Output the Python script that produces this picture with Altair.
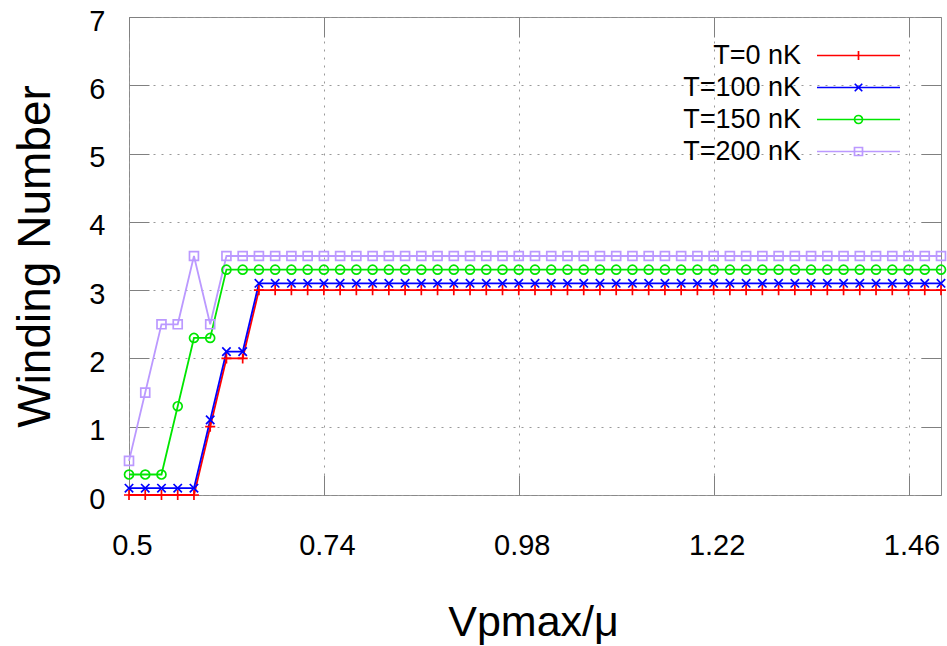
import altair as alt
import pandas as pd

# Abscissa: Vpmax/mu sampled every 0.02 from 0.5 to 1.5
vp = [round(0.5 + 0.02 * i, 2) for i in range(51)]

series = ["T=0 nK", "T=100 nK", "T=150 nK", "T=200 nK"]
colors = ["#ff0000", "#0000ff", "#00e600", "#bb99ff"]

# Winding number for each temperature (plateau reached after the first steps)
w_t0 = [0.0, 0.0, 0.0, 0.0, 0.0, 1.0, 2.0, 2.0, 3.0] + [3.0] * 42
w_t100 = [0.1, 0.1, 0.1, 0.1, 0.1, 1.1, 2.1, 2.1, 3.1] + [3.1] * 42
w_t150 = [0.3, 0.3, 0.3, 1.3, 2.3, 2.3, 3.3, 3.3, 3.3] + [3.3] * 42
w_t200 = [0.5, 1.5, 2.5, 2.5, 3.5, 2.5, 3.5, 3.5, 3.5] + [3.5] * 42

x_ticks = [0.5, 0.74, 0.98, 1.22, 1.46]
y_ticks = [0, 1, 2, 3, 4, 5, 6, 7]
symbols = ["plus", "cross", "circle", "square"]


def symbol_path(kind, cx=0.0):
    """SVG path of a point symbol centred at (cx, 0), in symbol units."""
    if kind == "plus":
        return f"M{cx - 0.9},0L{cx + 0.9},0M{cx},-0.9L{cx},0.9"
    if kind == "cross":
        return (f"M{cx - 0.75},-0.75L{cx + 0.75},0.75"
                f"M{cx - 0.75},0.75L{cx + 0.75},-0.75")
    if kind == "circle":
        return (f"M{cx - 0.8},0A0.8,0.8 0 1,0 {cx + 0.8},0"
                f"A0.8,0.8 0 1,0 {cx - 0.8},0")
    return (f"M{cx - 0.8},-0.8L{cx + 0.8},-0.8"
            f"L{cx + 0.8},0.8L{cx - 0.8},0.8Z")


marker_paths = [symbol_path(k) for k in symbols]
# Legend keys: a line segment with the symbol in its middle, set to the
# right of the (right-aligned) label
KEY_CX = 14.2
legend_paths = [f"M{KEY_CX - 8.3},0L{KEY_CX + 8.3},0" + symbol_path(k, KEY_CX)
                for k in symbols]

frames = []
for name, vals in zip(series, [w_t0, w_t100, w_t150, w_t200]):
    frames.append(pd.DataFrame({"vp": vp, "w": vals, "series": name}))
df = pd.concat(frames, ignore_index=True)

FONT = "Liberation Sans"
TICK_COLOR = "#808080"

x_scale = alt.Scale(domain=[0.5, 1.5], nice=False, zero=False)
y_scale = alt.Scale(domain=[0, 7], nice=False)

x_main = alt.X(
    "vp:Q",
    scale=x_scale,
    axis=alt.Axis(
        title="Vpmax/μ",
        values=x_ticks,
        format=".2~f",
        labelFlush=False,
        labelFontSize=29,
        labelBaseline="middle",
        labelPadding=50,
        labelOffset=3,
        titleFontSize=43,
        titleFontWeight="normal",
        titleX=404,
        titleY=127,
        titleBaseline="middle",
    ),
)
y_main = alt.Y(
    "w:Q",
    scale=y_scale,
    axis=alt.Axis(
        title="Winding Number",
        values=y_ticks,
        labelFontSize=29,
        labelPadding=24,
        labelOffset=4,
        titleFontSize=46,
        titleFontWeight="normal",
        titleX=-94,
        titleY=239,
        titleBaseline="middle",
        titleAlign="center",
    ),
)


def inner_ticks(orient, offset, values):
    """Tick-only axis pulled onto the opposite edge so its ticks point inward."""
    return alt.Axis(
        orient=orient,
        offset=offset,
        values=values,
        title=None,
        labels=False,
        grid=False,
        domain=False,
        ticks=True,
        tickSize=20,
        tickColor=TICK_COLOR,
        tickWidth=1,
    )


color_scale = alt.Scale(domain=series, range=colors)

lines = alt.Chart(df).mark_line(strokeWidth=1.8).encode(
    x=x_main,
    y=y_main,
    color=alt.Color("series:N", scale=color_scale, legend=None),
    detail="series:N",
)

points = alt.Chart(df).mark_point(filled=False, size=125, strokeWidth=1.7, opacity=1).encode(
    x=alt.X("vp:Q", scale=x_scale, axis=inner_ticks("top", -478, x_ticks)),
    y=alt.Y("w:Q", scale=y_scale, axis=inner_ticks("right", -812, y_ticks)),
    color=alt.Color("series:N", scale=color_scale, legend=None),
    shape=alt.Shape("series:N", scale=alt.Scale(domain=series, range=marker_paths), legend=None),
)

key_legend = alt.Legend(
    title=None,
    orient="none",
    legendX=645,
    legendY=25,
    padding=0,
    labelAlign="right",
    labelOffset=0,
    labelFontSize=27,
    labelFont=FONT,
    labelColor="#000000",
    labelLimit=400,
    symbolSize=100,
    symbolStrokeWidth=1.7,
    rowPadding=4,
)

# Carries the legend (and the top/right inward ticks); its rows are filtered out
legend_layer = alt.Chart(df).transform_filter("false").mark_point(
    filled=False, size=100, strokeWidth=1.7, opacity=1
).encode(
    x=alt.X("vp:Q", scale=x_scale, axis=inner_ticks("bottom", -478, x_ticks)),
    y=alt.Y("w:Q", scale=y_scale, axis=inner_ticks("left", -812, y_ticks)),
    color=alt.Color("series:N", scale=color_scale, legend=key_legend),
    shape=alt.Shape("series:N", scale=alt.Scale(domain=series, range=legend_paths), legend=key_legend),
)

chart = (
    alt.layer(lines, points, legend_layer)
    .resolve_scale(color="independent", shape="independent")
    .resolve_axis(x="independent", y="independent")
    .properties(
        width=812,
        height=478,
        padding={"left": 129, "top": 17, "right": 6, "bottom": 151},
        autosize=alt.AutoSizeParams(type="none"),
        background="#ffffff",
    )
    .configure_view(stroke="#8a8a8a", strokeWidth=1)
    .configure_axis(
        labelFont=FONT,
        titleFont=FONT,
        labelColor="#000000",
        titleColor="#000000",
        domain=False,
        ticks=False,
        tickSize=0,
        grid=True,
        gridColor="#999999",
        gridDash=[2, 6],
        gridWidth=1,
    )
)

chart.save("out.html", embed_options={"renderer": "svg", "actions": False})
